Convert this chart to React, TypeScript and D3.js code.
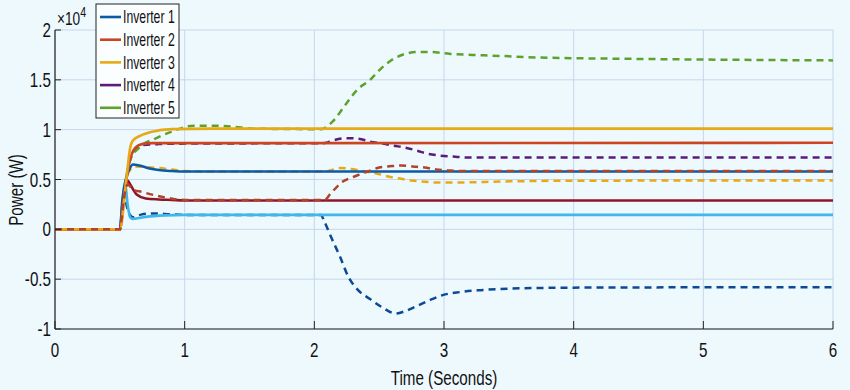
import * as d3 from 'd3'
import type { ReactNode } from 'react'

type Pt = [number, number]

// Solid lines (time s, power W)
const inv1Solid: Pt[] = [[0, 0], [0.5, 0], [0.52, 3000], [0.55, 5200], [0.58, 6200], [0.6, 6500], [0.65, 6400], [0.73, 6100], [0.8, 5950], [0.9, 5850], [1.0, 5800], [6, 5800]]
const inv2Solid: Pt[] = [[0, 0], [0.5, 0], [0.53, 3000], [0.57, 6500], [0.62, 8200], [0.67, 8550], [0.75, 8650], [1.0, 8650], [6, 8680]]
const inv3Solid: Pt[] = [[0, 0], [0.5, 0], [0.55, 5000], [0.58, 8200], [0.6, 8900], [0.66, 9400], [0.75, 9800], [0.9, 10050], [1.2, 10100], [6, 10100]]
const lightBlueSolid: Pt[] = [[0, 0], [0.5, 0], [0.52, 2500], [0.54, 4700], [0.56, 2500], [0.58, 1200], [0.6, 1050], [0.7, 1250], [0.85, 1400], [1.0, 1450], [6, 1450]]
const darkRedSolid: Pt[] = [[0, 0], [0.5, 0], [0.53, 3000], [0.56, 4900], [0.58, 4500], [0.63, 3500], [0.7, 3100], [0.8, 3000], [0.9, 2950], [1.0, 2900], [6, 2900]]

// Dashed lines
const inv1Dash: Pt[] = [[0, 0], [0.5, 0], [0.53, 3500], [0.56, 2000], [0.6, 1200], [0.67, 1500], [0.75, 1600], [0.9, 1500], [1.0, 1450], [2.05, 1450], [2.08, 700], [2.13, -800], [2.2, -2800], [2.26, -4700], [2.33, -6000], [2.43, -7000], [2.52, -7800], [2.63, -8450], [2.68, -8300], [2.79, -7700], [2.89, -7100], [2.99, -6600], [3.12, -6300], [3.28, -6100], [3.5, -5950], [4, -5850], [6, -5800]]
const inv2Dash: Pt[] = [[0, 0], [0.5, 0], [0.53, 3000], [0.56, 4500], [0.6, 4000], [0.67, 3750], [0.76, 3450], [0.85, 3200], [1.0, 2950], [2.08, 2950], [2.12, 3500], [2.21, 4700], [2.31, 5300], [2.41, 5800], [2.5, 6200], [2.6, 6350], [2.67, 6400], [2.76, 6300], [2.85, 6200], [2.94, 6000], [3.05, 5900], [3.15, 5850], [6, 5850]]
const inv3Dash: Pt[] = [[0, 0], [0.5, 0], [0.53, 3500], [0.57, 5800], [0.62, 6300], [0.7, 6250], [0.8, 6150], [0.9, 6000], [1.0, 5850], [1.2, 5800], [2.08, 5800], [2.2, 6150], [2.29, 6050], [2.39, 5800], [2.48, 5600], [2.57, 5300], [2.66, 5100], [2.75, 4900], [2.83, 4800], [2.95, 4700], [3.1, 4700], [3.45, 4800], [4, 4880], [6, 4900]]
const inv4Dash: Pt[] = [[0, 0], [0.5, 0], [0.53, 3500], [0.57, 6500], [0.62, 8000], [0.68, 8450], [0.8, 8550], [1.0, 8600], [2.08, 8650], [2.14, 8900], [2.25, 9150], [2.34, 9100], [2.43, 8800], [2.53, 8600], [2.61, 8400], [2.7, 8200], [2.79, 7900], [2.87, 7600], [2.97, 7400], [3.07, 7300], [3.2, 7200], [6, 7200]]
const inv5Dash: Pt[] = [[0, 0], [0.5, 0], [0.54, 4000], [0.58, 7000], [0.65, 8200], [0.79, 9200], [0.9, 9800], [1.07, 10400], [1.22, 10400], [1.37, 10300], [1.53, 10100], [2.05, 10050], [2.14, 10800], [2.24, 12500], [2.33, 14000], [2.43, 15000], [2.52, 16200], [2.61, 17100], [2.7, 17600], [2.8, 17800], [2.89, 17800], [3.05, 17600], [3.22, 17500], [3.43, 17400], [3.7, 17250], [4.5, 17100], [6, 16950]]

const xTicks = [0, 1, 2, 3, 4, 5, 6]
const yTicks = [-10000, -5000, 0, 5000, 10000, 15000, 20000]
const legendNames = ['Inverter 1', 'Inverter 2', 'Inverter 3', 'Inverter 4', 'Inverter 5']

const C = {
  blue: '#0b5aa6',
  red: '#cc4520',
  yellow: '#e8a916',
  purple: '#5a1b7c',
  green: '#5ca22c',
  lightBlue: '#3fb6ec',
  darkRed: '#8e1628',
  redDash: '#b2432a',
  blueDash: '#0d4a96',
}
const legendColors = [C.blue, C.red, C.yellow, C.purple, C.green]

const FONT = "'Liberation Sans', Arial, sans-serif"

// text squeezed horizontally around its anchor point (the original font is a narrow one)
function T({ x, y, size, anchor = 'start', dy, rotate = 0, sq = 0.76, children }: {
  x: number, y: number, size: number, anchor?: string, dy?: string, rotate?: number, sq?: number, children: ReactNode
}) {
  return (
    <text transform={`translate(${x},${y}) rotate(${rotate}) scale(${sq},1)`} textAnchor={anchor} dy={dy}
      fontSize={size} fill="#111">{children}</text>
  )
}

export default function App() {
  const width = 850
  const height = 390
  const x = d3.scaleLinear().domain([0, 6]).range([55, 833])
  const y = d3.scaleLinear().domain([-10000, 20000]).range([329, 30])

  const line = d3.line<Pt>().x(d => x(d[0])).y(d => y(d[1])).curve(d3.curveMonotoneX)

  const under: [Pt[], string][] = [
    [inv1Dash, C.blueDash],
    [inv3Dash, C.yellow],
    [inv4Dash, C.purple],
    [inv5Dash, C.green],
  ]
  const solids: [Pt[], string][] = [
    [lightBlueSolid, C.lightBlue],
    [darkRedSolid, C.darkRed],
    [inv1Solid, C.blue],
    [inv2Solid, C.red],
    [inv3Solid, C.yellow],
  ]

  const [x0, x1] = x.range()
  const [y0, y1] = y.range()

  return (
    <svg width={width} height={height} style={{ position: 'absolute', left: 0, top: 0, background: '#eef9fd' }}
      fontFamily={FONT}>
      <rect width={width} height={height} fill="#eef9fd" />

      {/* grid */}
      {xTicks.map(t => (
        <line key={'gx' + t} x1={x(t)} x2={x(t)} y1={y1} y2={y0} stroke="#c5d6ec" strokeWidth={1} />
      ))}
      {yTicks.map(v => (
        <line key={'gy' + v} x1={x0} x2={x1} y1={y(v)} y2={y(v)} stroke="#c5d6ec" strokeWidth={1} />
      ))}

      {/* lines */}
      {under.map(([d, c], i) => (
        <path key={'d' + i} d={line(d) ?? ''} fill="none" stroke={c} strokeWidth={2.5} strokeDasharray="7,5" />
      ))}
      {solids.map(([d, c], i) => (
        <path key={'s' + i} d={line(d) ?? ''} fill="none" stroke={c} strokeWidth={2.6} />
      ))}
      <path d={line(inv2Dash) ?? ''} fill="none" stroke={C.redDash} strokeWidth={2.5} strokeDasharray="7,5" />

      {/* axes */}
      <line x1={x0} x2={x0} y1={y1} y2={y0} stroke="#222" strokeWidth={1.2} />
      <line x1={x0} x2={x1} y1={y0} y2={y0} stroke="#222" strokeWidth={1.2} />
      {xTicks.map(t => (
        <g key={'xt' + t}>
          <line x1={x(t)} x2={x(t)} y1={y0} y2={y0 - 8} stroke="#222" strokeWidth={1} />
          <T x={x(t)} y={y0 + 28} size={20} anchor="middle">{t}</T>
        </g>
      ))}
      {yTicks.map(v => (
        <g key={'yt' + v}>
          <line x1={x0} x2={x0 + 6} y1={y(v)} y2={y(v)} stroke="#222" strokeWidth={1} />
          <T x={x0 - 4} y={y(v)} size={20} anchor="end" dy="0.35em">{v / 10000}</T>
        </g>
      ))}

      <T x={57} y={25} size={18}>×10<tspan dy={-8} fontSize={14}>4</tspan></T>

      <T x={x(3)} y={385} size={20} anchor="middle">Time (Seconds)</T>
      <T x={23} y={190} size={20} anchor="middle" rotate={-90}>Power (W)</T>

      {/* legend */}
      <g>
        <rect x={96} y={4} width={83} height={114} fill="#fbfeff" stroke="#222" strokeWidth={1} />
        {legendNames.map((name, i) => (
          <g key={name}>
            <line x1={100} x2={121} y1={17 + i * 22.7} y2={17 + i * 22.7} stroke={legendColors[i]} strokeWidth={2.6} />
            <T x={123} y={17 + i * 22.7} size={17.5} sq={0.7} dy="0.35em">{name}</T>
          </g>
        ))}
      </g>
    </svg>
  )
}
